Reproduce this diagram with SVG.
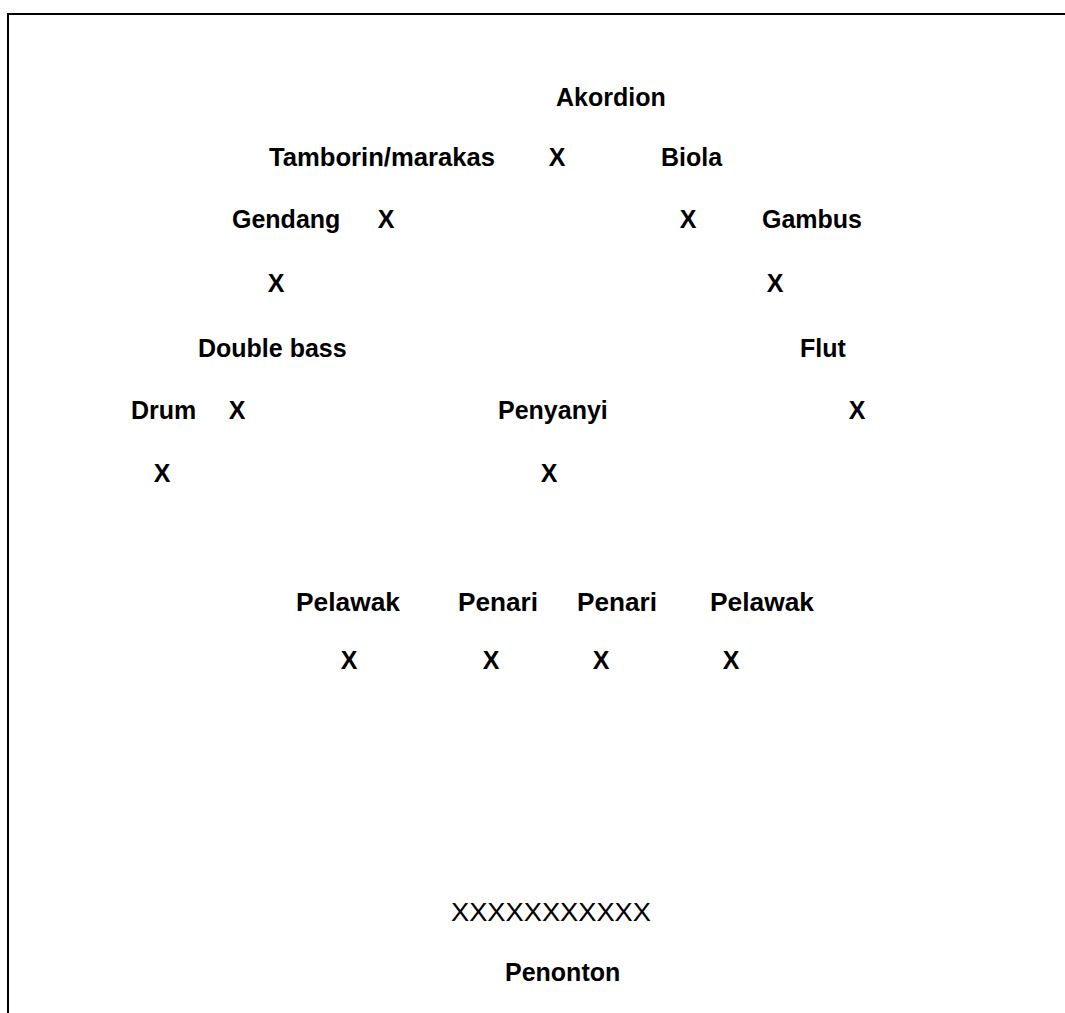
<svg xmlns="http://www.w3.org/2000/svg" width="1065" height="1013" viewBox="0 0 1065 1013">
<style>
.t{font-family:"Liberation Sans",Arial,sans-serif;font-size:25px;font-weight:700;fill:#000}
.x{font-family:"Liberation Sans",Arial,sans-serif;font-size:25px;font-weight:700;fill:#000;text-anchor:middle}
.c{font-family:"Liberation Sans",Arial,sans-serif;font-size:25px;font-weight:400;fill:#000}
</style>
<rect width="1065" height="1013" fill="#fff"/>
<g id="frame" stroke="#000" stroke-width="2" fill="none">
<path d="M8 1013 V14 H1065"/>
</g>
<g id="akordion"><text class="t" x="556" y="106">Akordion</text><text class="x" x="557" y="166">X</text></g>
<g id="tamborin"><text class="t" x="269" y="166" textLength="226" lengthAdjust="spacingAndGlyphs">Tamborin/marakas</text><text class="x" x="386" y="228">X</text></g>
<g id="biola"><text class="t" x="661" y="166">Biola</text><text class="x" x="688" y="228">X</text></g>
<g id="gendang"><text class="t" x="232" y="228">Gendang</text><text class="x" x="276" y="292">X</text></g>
<g id="gambus"><text class="t" x="762" y="228">Gambus</text><text class="x" x="775" y="292">X</text></g>
<g id="doublebass"><text class="t" x="198" y="357">Double bass</text><text class="x" x="237" y="419">X</text></g>
<g id="flut"><text class="t" x="800" y="357">Flut</text><text class="x" x="857" y="419">X</text></g>
<g id="drum"><text class="t" x="131" y="419">Drum</text><text class="x" x="162" y="482">X</text></g>
<g id="penyanyi"><text class="t" x="498" y="419">Penyanyi</text><text class="x" x="549" y="482">X</text></g>
<g id="pelawak1"><text class="t" x="296" y="611" textLength="104" lengthAdjust="spacingAndGlyphs">Pelawak</text><text class="x" x="349" y="669">X</text></g>
<g id="penari1"><text class="t" x="458" y="611" textLength="80" lengthAdjust="spacingAndGlyphs">Penari</text><text class="x" x="491" y="669">X</text></g>
<g id="penari2"><text class="t" x="577" y="611" textLength="80" lengthAdjust="spacingAndGlyphs">Penari</text><text class="x" x="601" y="669">X</text></g>
<g id="pelawak2"><text class="t" x="710" y="611" textLength="104" lengthAdjust="spacingAndGlyphs">Pelawak</text><text class="x" x="731" y="669">X</text></g>
<g id="penonton"><text class="c" x="451" y="921" textLength="200" lengthAdjust="spacingAndGlyphs">XXXXXXXXXXX</text><text class="t" x="505" y="981">Penonton</text></g>
</svg>
